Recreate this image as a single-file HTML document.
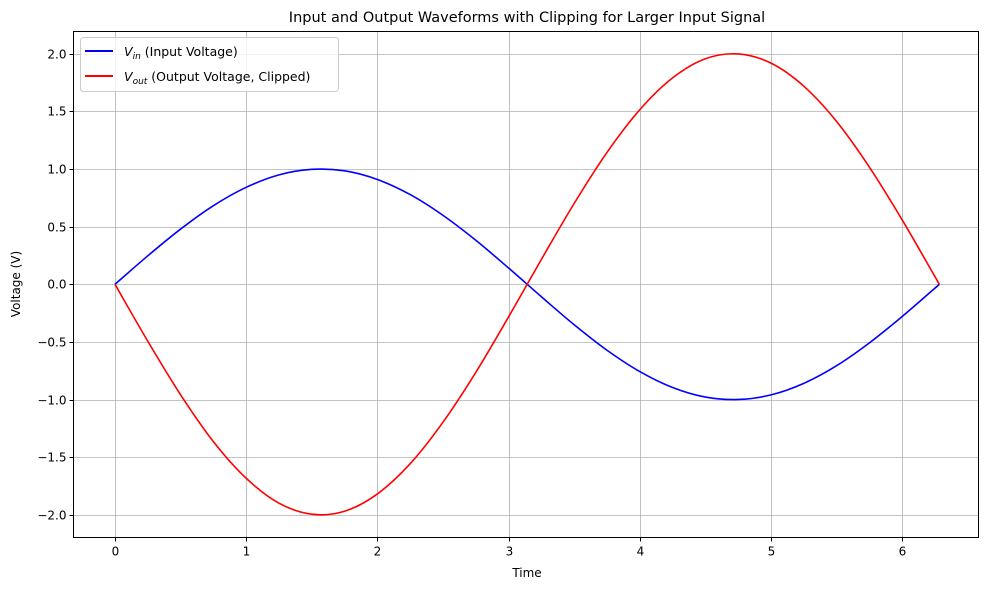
<!DOCTYPE html>
<html><head><meta charset="utf-8"><style>
body{margin:0;background:#fff}
svg text{font-family:"DejaVu Sans","Liberation Sans",sans-serif;fill:#000}
</style></head><body>
<svg id="chart" width="989" height="590" viewBox="0 0 989 590">
<text x="527" y="22" text-anchor="middle" font-size="14.5">Input and Output Waveforms with Clipping for Larger Input Signal</text>
<g id="grid"></g>
<g id="ticks"></g>
<g id="series"></g>
<rect x="73.5" y="31.5" width="905" height="506" fill="none" stroke="#000" stroke-width="1"/>
<text x="527" y="577" text-anchor="middle" font-size="12">Time</text>
<text x="20" y="284" text-anchor="middle" font-size="12" transform="rotate(-90 20 284)">Voltage (V)</text>
<g>
<rect x="80.5" y="37.5" width="258" height="54" rx="3" fill="#fff" fill-opacity="0.8" stroke="#ccc"/>
<g>
<line x1="85" y1="51" x2="113" y2="51" stroke="#0000ff" stroke-width="2"/>
<text x="124" y="56" font-size="12.5"><tspan font-style="italic">V</tspan><tspan font-style="italic" font-size="9" dy="3">in</tspan><tspan dy="-3"> (Input Voltage)</tspan></text>
</g>
<g>
<line x1="85" y1="76" x2="113" y2="76" stroke="#ff0000" stroke-width="2"/>
<text x="124" y="81" font-size="12.5"><tspan font-style="italic">V</tspan><tspan font-style="italic" font-size="9" dy="3">out</tspan><tspan dy="-3"> (Output Voltage, Clipped)</tspan></text>
</g>
</g>
</svg>
<script>
const times=[0,0.25,0.5,0.75,1,1.25,1.5,1.75,2,2.25,2.5,2.75,3,3.25,3.5,3.75,4,4.25,4.5,4.75,5,5.25,5.5,5.75,6,6.25,6.283];
const vin=[0,0.247,0.479,0.682,0.841,0.949,0.997,0.984,0.909,0.778,0.598,0.382,0.141,-0.108,-0.351,-0.572,-0.757,-0.895,-0.978,-0.999,-0.959,-0.859,-0.706,-0.508,-0.279,-0.033,0];
const vout=[0,-0.494,-0.958,-1.364,-1.682,-1.898,-1.994,-1.968,-1.818,-1.556,-1.196,-0.764,-0.282,0.216,0.702,1.144,1.514,1.790,1.956,1.998,1.918,1.718,1.412,1.016,0.558,0.066,0];
const xTicks=[0,1,2,3,4,5,6];
const yTicks=[-2.0,-1.5,-1.0,-0.5,0.0,0.5,1.0,1.5,2.0];
const NS="http://www.w3.org/2000/svg";
const L=73.5,R=978.5,T=31.5,B=537.5;
function xs(v){return 115+v*131.2;}
function ys(v){return 284.3-v*115.3;}
const grid=document.getElementById('grid'),ticks=document.getElementById('ticks'),series=document.getElementById('series');
function mk(tag,attrs,parent){const e=document.createElementNS(NS,tag);for(const k in attrs)e.setAttribute(k,attrs[k]);parent.appendChild(e);return e;}
xTicks.forEach(v=>{const x=Math.round(xs(v))+0.5;
const g=mk('line',{x1:x,x2:x,y1:T,y2:B,stroke:'#b0b0b0','stroke-width':0.8},grid);


mk('line',{x1:x,x2:x,y1:B,y2:B+4,stroke:'#000'},ticks);
const t=mk('text',{x:x,y:B+18,'text-anchor':'middle','font-size':12},ticks);t.textContent=v;

});
yTicks.forEach(v=>{const y=Math.round(ys(v))+0.5;
const g=mk('line',{x1:L,x2:R,y1:y,y2:y,stroke:'#b0b0b0','stroke-width':0.8},grid);


mk('line',{x1:L-4,x2:L,y1:y,y2:y,stroke:'#000'},ticks);
const t=mk('text',{x:L-7,y:y+4,'text-anchor':'end','font-size':12},ticks);t.textContent=v.toFixed(1).replace('-','\u2212');

});
function pathFor(vals){const p=times.map((t,i)=>[xs(t),ys(vals[i])]);let d='M'+p[0][0]+','+p[0][1];
for(let i=0;i<p.length-1;i++){const p0=p[Math.max(i-1,0)],p1=p[i],p2=p[i+1],p3=p[Math.min(i+2,p.length-1)];
d+=' C'+(p1[0]+(p2[0]-p0[0])/6)+','+(p1[1]+(p2[1]-p0[1])/6)+' '+(p2[0]-(p3[0]-p1[0])/6)+','+(p2[1]-(p3[1]-p1[1])/6)+' '+p2[0]+','+p2[1];}
return d;}
const a=mk('path',{d:pathFor(vin),fill:'none',stroke:'#0000ff','stroke-width':1.6},series);


const b=mk('path',{d:pathFor(vout),fill:'none',stroke:'#ff0000','stroke-width':1.6},series);


</script>
</body></html>
